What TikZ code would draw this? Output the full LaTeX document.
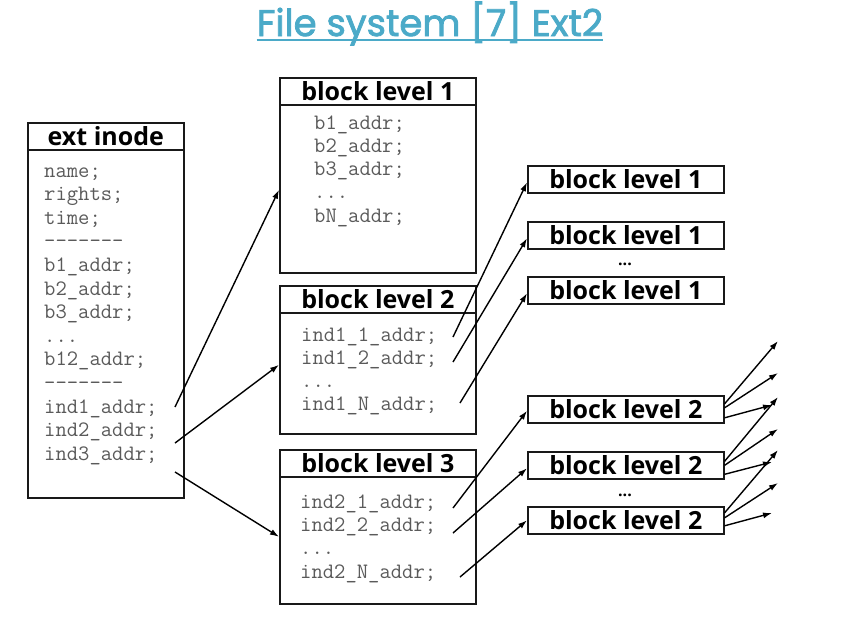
\documentclass[tikz,border=0pt]{standalone}
\usepackage{fontspec}
\usetikzlibrary{arrows.meta}
\newfontfamily\osans{Open Sans}
\newfontfamily\ttlfont{Poppins}[FakeBold=2.2]
\definecolor{ttlblue}{RGB}{75,170,200}
\definecolor{codegray}{RGB}{90,90,90}
\begin{document}
\begin{tikzpicture}[x=1pt,y=-1pt,
  box/.style={draw=black!90,line width=1.6pt,rectangle,inner sep=0pt,anchor=north west,minimum width=#1},
  box/.default=196pt,
  hdr/.style={font=\osans\bfseries\fontsize{25}{25}\selectfont,inner sep=0pt},
  code/.style={font=\ttfamily\fontsize{22}{22}\selectfont,text=codegray,anchor=base west,inner sep=0pt},
  arr/.style={line width=1.4pt,-{Latex[length=9pt,width=6pt]}},
  dotsn/.style={font=\osans\bfseries\fontsize{16}{16}\selectfont,inner sep=0pt,anchor=base}
]
\useasboundingbox (0,0) rectangle (864,632);
% title
\node[font=\ttlfont\fontsize{37}{37}\selectfont,text=ttlblue,inner sep=0pt,anchor=base] (title) at (430,36) {File system [7] Ext2};
\draw[ttlblue,line width=2.5pt] ([yshift=-4pt]title.base west) -- ([yshift=-4pt]title.base east);

% ext inode
\node[box=156pt,minimum height=375pt] (inode) at (27,122) {};
\node[box=156pt,minimum height=27pt] (inodeh) at (27,122) {};
\node[hdr] (inodet) at (inodeh.center) {ext inode};
\node[code] (i1) at (44,177) {name;};
\node[code] (i2) at (44,200.6) {rights;};
\node[code] (i3) at (44,224.2) {time;};
\node[code] (i4) at (44,247.8) {-------};
\node[code] (i5) at (44,271.4) {b1\_addr;};
\node[code] (i6) at (44,295) {b2\_addr;};
\node[code] (i7) at (44,318.6) {b3\_addr;};
\node[code] (i8) at (44,342.2) {...};
\node[code] (i9) at (44,365.8) {b12\_addr;};
\node[code] (i10) at (44,389.4) {-------};
\node[code] (i11) at (44,413) {ind1\_addr;};
\node[code] (i12) at (44,436.6) {ind2\_addr;};
\node[code] (i13) at (44,460.2) {ind3\_addr;};

% block level 1
\node[box,minimum height=195pt] (bl1) at (279,77) {};
\node[box,minimum height=27pt] (bl1h) at (279,77) {};
\node[hdr] (bl1t) at (bl1h.center) {block level 1};
\node[code] (a1) at (314,129) {b1\_addr;};
\node[code] (a2) at (314,152.3) {b2\_addr;};
\node[code] (a3) at (314,175.6) {b3\_addr;};
\node[code] (a4) at (314,198.9) {...};
\node[code] (a5) at (314,222.2) {bN\_addr;};

% block level 2
\node[box,minimum height=148pt] (bl2) at (279,285) {};
\node[box,minimum height=27pt] (bl2h) at (279,285) {};
\node[hdr] (bl2t) at (bl2h.center) {block level 2};
\node[code] (b1) at (301,341) {ind1\_1\_addr;};
\node[code] (b2) at (301,364) {ind1\_2\_addr;};
\node[code] (b3) at (301,387) {...};
\node[code] (b4) at (301,410) {ind1\_N\_addr;};

% block level 3
\node[box,minimum height=154pt] (bl3) at (279,449) {};
\node[box,minimum height=27pt] (bl3h) at (279,449) {};
\node[hdr] (bl3t) at (bl3h.center) {block level 3};
\node[code] (c1) at (300,508) {ind2\_1\_addr;};
\node[code] (c2) at (300,531.3) {ind2\_2\_addr;};
\node[code] (c3) at (300,554.6) {...};
\node[code] (c4) at (300,578) {ind2\_N\_addr;};

% right column level 1
\node[box,minimum height=27pt] (r1a) at (527,165) {};
\node[hdr] (r1at) at (r1a.center) {block level 1};
\node[box,minimum height=27pt] (r1b) at (527,221) {};
\node[hdr] (r1bt) at (r1b.center) {block level 1};
\node[dotsn] (d1) at (625,265) {...};
\node[box,minimum height=27pt] (r1c) at (527,276) {};
\node[hdr] (r1ct) at (r1c.center) {block level 1};

% right column level 2
\node[box,minimum height=27pt] (r2a) at (527,395) {};
\node[hdr] (r2at) at (r2a.center) {block level 2};
\node[box,minimum height=27pt] (r2b) at (527,451) {};
\node[hdr] (r2bt) at (r2b.center) {block level 2};
\node[dotsn] (d2) at (625,496) {...};
\node[box,minimum height=27pt] (r2c) at (527,506) {};
\node[hdr] (r2ct) at (r2c.center) {block level 2};

% arrow start points
\coordinate (sA1) at (175,407);
\coordinate (sA2) at (175,443);
\coordinate (sA3) at (175,472);
\coordinate (sB1) at (453,337);
\coordinate (sB2) at (453,362);
\coordinate (sB3) at (460,403);
\coordinate (sC1) at (453,508);
\coordinate (sC2) at (453,533);
\coordinate (sC3) at (460,577);
% fan end points
\coordinate (e1) at (778,341);
\coordinate (e2) at (778,373);
\coordinate (e3) at (772,405);
\coordinate (e4) at (778,397);
\coordinate (e5) at (778,429);
\coordinate (e6) at (772,462);
\coordinate (e7) at (778,450);
\coordinate (e8) at (778,483);
\coordinate (e9) at (772,513);

\draw[arr] (sA1) -- ([yshift=-14.5pt]bl1.west);
\draw[arr] (sA2) -- ([yshift=-5pt]bl2.west);
\draw[arr] (sA3) -- ([yshift=-10pt]bl3.west);
\draw[arr] (sB1) -- ([yshift=-3pt]r1a.west);
\draw[arr] (sB2) -- ([yshift=-3pt]r1b.west);
\draw[arr] (sB3) -- ([yshift=-3pt]r1c.west);
\draw[arr] (sC1) -- ([yshift=-1.5pt]r2a.west);
\draw[arr] (sC2) -- ([yshift=-3pt]r2b.west);
\draw[arr] (sC3) -- (r2c.west);

\draw[arr] ([yshift=5.5pt]r2a.east) -- (e1);
\draw[arr] ([yshift=1.5pt]r2a.east) -- (e2);
\draw[arr] ([yshift=-8.5pt]r2a.east) -- (e3);
\draw[arr] ([yshift=4pt]r2b.east) -- (e4);
\draw[arr] (r2b.east) -- (e5);
\draw[arr] ([yshift=-9pt]r2b.east) -- (e6);
\draw[arr] ([yshift=7.5pt]r2c.east) -- (e7);
\draw[arr] ([yshift=2.5pt]r2c.east) -- (e8);
\draw[arr] ([yshift=-5.5pt]r2c.east) -- (e9);
\end{tikzpicture}
\end{document}
